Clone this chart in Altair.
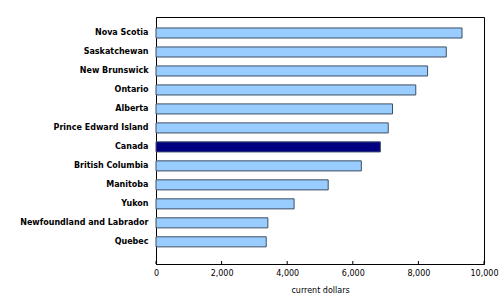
import altair as alt
import pandas as pd

regions = ["Nova Scotia", "Saskatchewan", "New Brunswick", "Ontario", "Alberta",
           "Prince Edward Island", "Canada", "British Columbia", "Manitoba", "Yukon",
           "Newfoundland and Labrador", "Quebec"]
values = [9330, 8850, 8280, 7920, 7210, 7080, 6840, 6260, 5250, 4210, 3410, 3360]
tick_values = [0, 2000, 4000, 6000, 8000, 10000]

df = pd.DataFrame({"region": regions, "value": values,
                   "isCanada": [r == "Canada" for r in regions]})
ticks_df = pd.DataFrame({"t": tick_values})

W, H = 328, 247
FONT = "DejaVu Sans"

x_axis = alt.Axis(values=tick_values, format=",.0f", ticks=False, grid=False,
                  domainColor="black", labelFont=FONT, labelFontSize=8,
                  labelColor="black", labelPadding=5, labelFlush=False,
                  labelOverlap=False, labelBound=False,
                  title="current dollars", titleFont=FONT, titleFontSize=8,
                  titleFontWeight="normal", titleColor="black", titlePadding=9)
x_scale = alt.Scale(domain=[0, 10000], nice=False)

bars = alt.Chart(df).mark_bar(stroke="#3d4f63", strokeWidth=1).encode(
    x=alt.X("value:Q", scale=x_scale, axis=x_axis),
    y=alt.Y("region:N", sort=None,
            scale=alt.Scale(paddingInner=0.47, paddingOuter=0.74, align=0.39),
            axis=alt.Axis(title=None, ticks=False, domainColor="black",
                          labelFont=FONT, labelFontSize=8, labelFontWeight="bold",
                          labelColor="black", labelPadding=8)),
    color=alt.Color("isCanada:N",
                    scale=alt.Scale(domain=[False, True], range=["#99ccff", "#000080"]),
                    legend=None),
)

tick_marks = alt.Chart(ticks_df).mark_rule(color="black", strokeWidth=1).encode(
    x=alt.X("t:Q", scale=x_scale, axis=x_axis),
    y=alt.value(H - 3),
    y2=alt.value(H),
)

chart = alt.layer(bars, tick_marks).properties(
    width=W, height=H,
    autosize=alt.AutoSizeParams(type="none"),
    padding={"left": 156, "top": 17, "right": 16, "bottom": 36},
).configure_view(stroke="black", strokeWidth=1)

chart.save("out.html", embed_options={"renderer": "svg", "actions": False})
